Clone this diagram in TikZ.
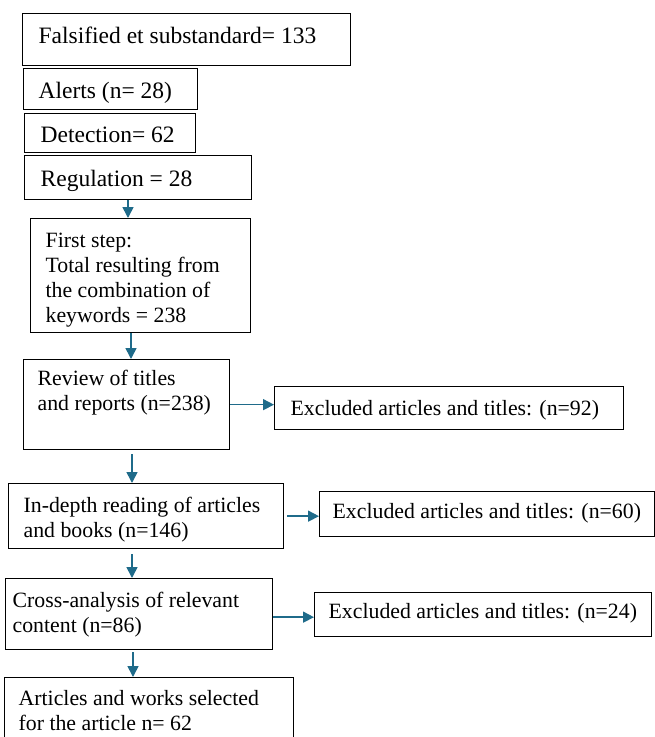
\documentclass[tikz,border=0pt]{standalone}
\usepackage{fontspec}
\setmainfont{Liberation Serif}
\definecolor{flowblue}{HTML}{1F6B8A}

\tikzset{
    box/.style={draw, line width=1.3pt, anchor=north west, align=flush left, inner ysep=0pt},
    bigtxt/.style={font=\fontsize{23.5}{26}\selectfont},
    smalltxt/.style={font=\fontsize{21.8}{25}\selectfont},
    flow/.style={-{Triangle[length=11pt,width=11pt]}, flowblue, line width=1.6pt}
}
\usetikzlibrary{arrows.meta}

\begin{document}
\begin{tikzpicture}[x=1pt,y=-1pt]
    \useasboundingbox (0,0) rectangle (655,737);

    % Sources
    \node[box, bigtxt, inner xsep=16pt, text width=296pt, text height=30pt, text depth=22pt]
        (fss) at (22,13) {Falsified et substandard= 133};
    \node[box, bigtxt, inner xsep=15pt, text width=144pt, text height=30pt, text depth=11pt]
        (alerts) at (23,68) {Alerts (n= 28)};
    \node[box, bigtxt, inner xsep=16pt, text width=139pt, text height=29pt, text depth=10pt]
        (detect) at (24,113) {Detection= 62};
    \node[box, bigtxt, inner xsep=16pt, text width=195pt, text height=31pt, text depth=13pt]
        (reg) at (24,155) {Regulation = 28};

    % Main steps
    \node[box, smalltxt, inner xsep=15pt, text width=190pt, text height=29pt, text depth=85pt]
        (first) at (30,218) {First step:\\ Total resulting from\\ the combination of\\ keywords = 238};
    \node[box, smalltxt, inner xsep=14pt, text width=178pt, text height=26pt, text depth=64pt]
        (review) at (23,359) {Review of titles\\ and reports (n=238)};
    \node[box, smalltxt, inner xsep=15pt, text width=245pt, text height=29pt, text depth=36pt]
        (depth) at (8,483) {In-depth reading of articles\\ and books (n=146)};
    \node[box, smalltxt, inner xsep=7pt, text width=253pt, text height=29pt, text depth=42pt]
        (cross) at (5,578) {Cross-analysis of relevant\\ content (n=86)};
    \node[box, smalltxt, inner xsep=14pt, text width=261pt, text height=28pt, text depth=60pt]
        (final) at (4,677) {Articles and works selected\\ for the article n= 62};

    % Exclusions
    \node[box, smalltxt, inner xsep=16pt, text width=317pt, text height=29pt, text depth=14pt]
        (excla) at (274,386) {Excluded articles and titles: (n=92)};
    \node[box, smalltxt, inner xsep=13pt, text width=309pt, text height=27pt, text depth=18pt]
        (exclb) at (319,491) {Excluded articles and titles: (n=60)};
    \node[box, smalltxt, inner xsep=14pt, text width=309pt, text height=26pt, text depth=18pt]
        (exclc) at (314,592) {Excluded articles and titles: (n=24)};

    % Arrows
    \draw[flow] ([xshift=104pt]reg.south west) -- ([xshift=98pt]first.north west);
    \draw[flow] ([xshift=101pt]first.south west) -- ([xshift=108pt]review.north west);
    \draw[flow] ([xshift=109pt,yshift=-4pt]review.south west) -- ([xshift=124pt]depth.north west);
    \draw[flow] ([xshift=124pt,yshift=-5pt]depth.south west) -- ([xshift=127pt]cross.north west);
    \draw[flow] ([xshift=128pt,yshift=-2pt]cross.south west) -- ([xshift=129pt]final.north west);

    \draw[flow] (review.east) -- (review.east -| excla.west);
    \draw[flow, shorten <=3pt] (depth.east) -- (depth.east -| exclb.west);
    \draw[flow] ([yshift=-3pt]cross.east) -- ([yshift=-3pt]cross.east -| exclc.west);
\end{tikzpicture}
\end{document}
